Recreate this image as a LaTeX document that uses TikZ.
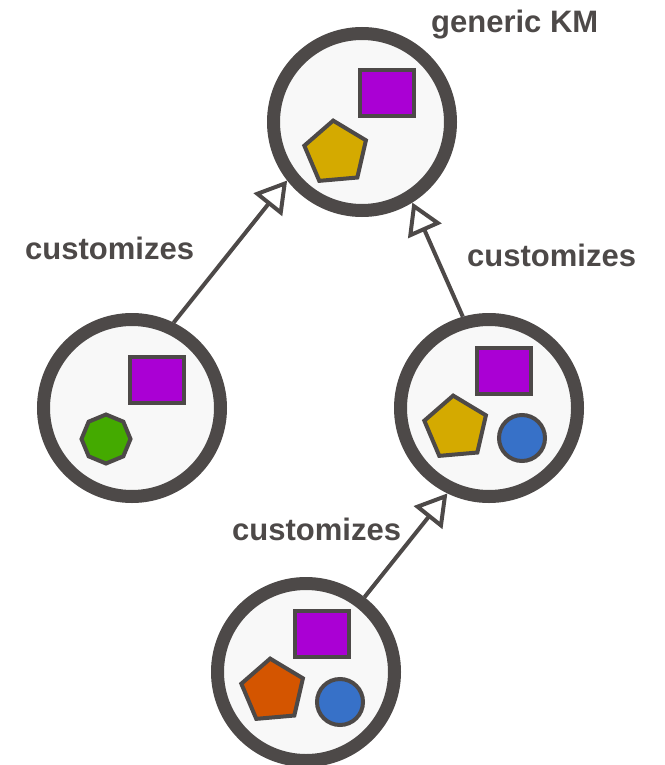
\documentclass[tikz,border=0pt]{standalone}
\usepackage{fontspec}
\setmainfont{Liberation Sans}
\usetikzlibrary{arrows.meta,shapes.geometric}
\definecolor{ringgray}{HTML}{4D4948}
\definecolor{kmfill}{HTML}{F8F8F8}
\definecolor{kmpurple}{HTML}{AA00D4}
\definecolor{kmyellow}{HTML}{D4AA00}
\definecolor{kmgreen}{HTML}{44AA00}
\definecolor{kmblue}{HTML}{3771C8}
\definecolor{kmorange}{HTML}{D45500}
\begin{document}
\begin{tikzpicture}[x=1pt,y=-1pt,
  km/.style={circle,draw=ringgray,fill=kmfill,line width=13pt,minimum size=177pt,inner sep=0pt},
  sq/.style={rectangle,draw=ringgray,fill=kmpurple,line width=4pt,minimum width=54pt,minimum height=46pt,inner sep=0pt},
  penta/.style={regular polygon,regular polygon sides=5,draw=ringgray,line width=4pt,minimum size=65pt,inner sep=0pt,shape border rotate=5},
  octa/.style={regular polygon,regular polygon sides=8,draw=ringgray,fill=kmgreen,line width=4pt,minimum size=49pt,inner sep=0pt,shape border rotate=22.5},
  dot/.style={circle,draw=ringgray,fill=kmblue,line width=4pt,minimum size=46pt,inner sep=0pt},
  lbl/.style={font=\bfseries\fontsize{31}{31}\selectfont,text=ringgray,anchor=base west,inner sep=0pt},
  cust/.style={draw=ringgray,line width=4pt,-{Triangle[open,length=31pt,width=36pt]}}]
\useasboundingbox (0,0) rectangle (664,765);
\node[km] (generic) at (362,122) {};
\node[km] (leftkm) at (132,408) {};
\node[km] (rightkm) at (489,408) {};
\node[km] (bottomkm) at (306,672) {};
\node[sq] (genericsq) at ([shift={(25,-29)}]generic) {};
\node[penta,fill=kmyellow] (genericpenta) at ([shift={(-26,31)}]generic) {};
\node[sq] (leftsq) at ([shift={(25,-28)}]leftkm) {};
\node[octa] (leftocta) at ([shift={(-26,31)}]leftkm) {};
\node[sq] (rightsq) at ([shift={(15,-37)}]rightkm) {};
\node[penta,fill=kmyellow] (rightpenta) at ([shift={(-33,20)}]rightkm) {};
\node[dot] (rightdot) at ([shift={(33,30)}]rightkm) {};
\node[sq] (bottomsq) at ([shift={(16,-38)}]bottomkm) {};
\node[penta,fill=kmorange] (bottompenta) at ([shift={(-33,19)}]bottomkm) {};
\node[dot] (bottomdot) at ([shift={(34,30)}]bottomkm) {};
\draw[cust] (leftkm.64) -- (generic.218);
\draw[cust] (rightkm.106) -- (generic.302);
\draw[cust] (bottomkm.52) -- (rightkm.244);
\node[lbl] (kmtitle) at (431,33) {generic KM};
\node[lbl] (custleft) at (25,259) {customizes};
\node[lbl] (custright) at (467,266) {customizes};
\node[lbl] (custbottom) at (232,540) {customizes};
\end{tikzpicture}
\end{document}
